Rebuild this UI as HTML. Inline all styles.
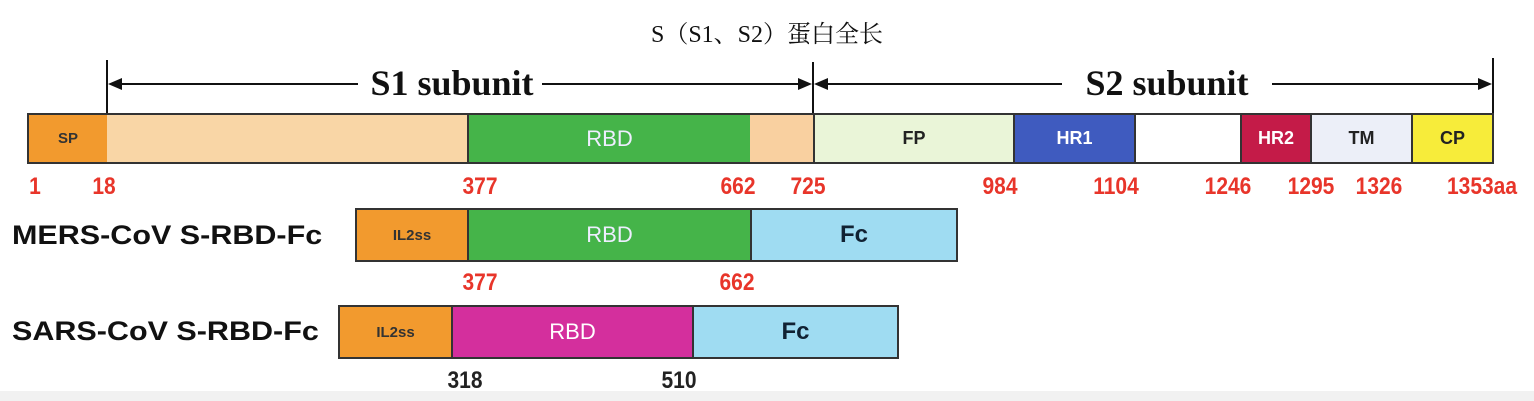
<!DOCTYPE html>
<html><head><meta charset="utf-8"><style>
body{margin:0;width:1534px;height:401px;background:#fff;position:relative;overflow:hidden;font-family:"Liberation Sans",Arial,sans-serif}
.b{position:absolute;box-sizing:border-box;border:2px solid #333;display:flex;align-items:center;justify-content:center;font-weight:bold}
.n{position:absolute;font-weight:bold;font-size:21px;color:#e8352a;transform:translateX(-50%) scaleY(1.15)}
.k{color:#222}
.lab{position:absolute;font-weight:bold;font-size:27px;color:#111;transform-origin:0 0;transform:scaleX(1.13)}
</style></head><body>
<div style="position:absolute;top:14px;left:0;width:1534px;text-align:center;font-family:'Liberation Serif','Noto Serif CJK SC',serif;font-size:24px;color:#111">S（S1、S2）蛋白全长</div>
<svg width="1534" height="401" style="position:absolute;left:0;top:0">
<g stroke="#111" stroke-width="2">
<line x1="107" y1="60" x2="107" y2="113"/><line x1="813" y1="62" x2="813" y2="113"/><line x1="1493" y1="58" x2="1493" y2="113"/>
<line x1="112" y1="84" x2="358" y2="84"/><line x1="542" y1="84" x2="808" y2="84"/>
<line x1="818" y1="84" x2="1062" y2="84"/><line x1="1272" y1="84" x2="1488" y2="84"/>
</g>
<g fill="#111">
<polygon points="108,84 122,78 122,90"/><polygon points="812,84 798,78 798,90"/>
<polygon points="814,84 828,78 828,90"/><polygon points="1492,84 1478,78 1478,90"/>
</g>
<text x="452" y="95" font-family="Liberation Serif,serif" font-weight="bold" font-size="36" text-anchor="middle" fill="#111">S1 subunit</text>
<text x="1167" y="95" font-family="Liberation Serif,serif" font-weight="bold" font-size="36" text-anchor="middle" fill="#111">S2 subunit</text>
</svg>
<div class="b" style="left:27px;top:113px;width:82px;height:51px;background:#f29a2e;font-size:15px;color:#333">SP</div>
<div class="b" style="left:107px;top:113px;width:362px;height:51px;background:#f9d6a6;border-left:none"></div>
<div class="b" style="left:467px;top:113px;width:285px;height:51px;background:#45b449;color:#eef;font-size:22px;font-weight:normal">RBD</div>
<div class="b" style="left:750px;top:113px;width:65px;height:51px;background:#f9d0a0;border-left:none"></div>
<div class="b" style="left:813px;top:113px;width:202px;height:51px;background:#eaf5d8;font-size:18px;color:#222">FP</div>
<div class="b" style="left:1013px;top:113px;width:123px;height:51px;background:#3f5bbf;color:#fff;font-size:18px">HR1</div>
<div class="b" style="left:1134px;top:113px;width:108px;height:51px;background:#fff"></div>
<div class="b" style="left:1240px;top:113px;width:72px;height:51px;background:#c41b48;color:#fff;font-size:18px">HR2</div>
<div class="b" style="left:1310px;top:113px;width:103px;height:51px;background:#eceff8;font-size:18px;color:#222">TM</div>
<div class="b" style="left:1411px;top:113px;width:83px;height:51px;background:#f7ec3a;font-size:18px;color:#222">CP</div>
<div class="n" style="left:35px;top:175px">1</div><div class="n" style="left:104px;top:175px">18</div>
<div class="n" style="left:480px;top:175px">377</div><div class="n" style="left:738px;top:175px">662</div>
<div class="n" style="left:808px;top:175px">725</div><div class="n" style="left:1000px;top:175px">984</div>
<div class="n" style="left:1116px;top:175px">1104</div><div class="n" style="left:1228px;top:175px">1246</div>
<div class="n" style="left:1311px;top:175px">1295</div><div class="n" style="left:1379px;top:175px">1326</div>
<div class="n" style="left:1482px;top:175px">1353aa</div>
<div class="lab" style="left:12px;top:220px">MERS-CoV S-RBD-Fc</div>
<div class="b" style="left:355px;top:208px;width:114px;height:54px;background:#f29a2e;font-size:15px;color:#333">IL2ss</div>
<div class="b" style="left:467px;top:208px;width:285px;height:54px;background:#45b449;color:#eef;font-size:22px;font-weight:normal">RBD</div>
<div class="b" style="left:750px;top:208px;width:208px;height:54px;background:#9fdcf2;font-size:24px;color:#123">Fc</div>
<div class="n" style="left:480px;top:271px">377</div><div class="n" style="left:737px;top:271px">662</div>
<div class="lab" style="left:12px;top:316px">SARS-CoV S-RBD-Fc</div>
<div class="b" style="left:338px;top:305px;width:115px;height:54px;background:#f29a2e;font-size:15px;color:#333">IL2ss</div>
<div class="b" style="left:451px;top:305px;width:243px;height:54px;background:#d42f9d;color:#fff;font-size:22px;font-weight:normal">RBD</div>
<div class="b" style="left:692px;top:305px;width:207px;height:54px;background:#9fdcf2;font-size:24px;color:#123">Fc</div>
<div class="n k" style="left:465px;top:369px">318</div><div class="n k" style="left:679px;top:369px">510</div>
<div style="position:absolute;left:0;top:391px;width:1534px;height:10px;background:#f1f1f1"></div>
</body></html>
